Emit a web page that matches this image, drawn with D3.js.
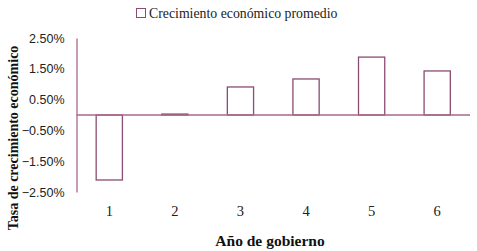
<!DOCTYPE html>
<html><head><meta charset="utf-8">
<script src="https://cdn.jsdelivr.net/npm/d3@7"></script>
<style>body{margin:0;background:#fff}svg{display:block}</style>
</head><body>
<svg id="c" width="477" height="251"></svg>
<script>
const categories = ["1","2","3","4","5","6"];
const values = [-2.11, 0.03, 0.91, 1.17, 1.88, 1.43];
const yTicks = [2.5, 1.5, 0.5, -0.5, -1.5, -2.5];
const seriesName = "Crecimiento económico promedio";
const xTitle = "Año de gobierno";
const yTitle = "Tasa de crecimiento económico";

(function () {
const svg = d3.select("#c");
const mLeft = 76.5, mRight = 470, mTop = 38, mBottom = 192;
const x = d3.scaleBand().domain(categories).range([mLeft, mRight]).paddingInner(0.6).paddingOuter(0.3);
const y = d3.scaleLinear().domain([-2.5, 2.5]).range([mBottom, mTop]);
const col = "#8a4c72";
const axisCol = "#a8698c";
const serif = "'Liberation Serif', 'DejaVu Serif', serif";
const sans = "'Liberation Sans', Arial, sans-serif";

const yAxis = d3.axisLeft(y).tickValues(yTicks).tickSize(0).tickPadding(12)
  .tickFormat(d => d3.format(".2f")(d) + "%");
const gy = svg.append("g").attr("transform", `translate(${mLeft},0)`).call(yAxis);
gy.select(".domain").attr("stroke", axisCol).attr("stroke-width", 1.3);
gy.selectAll("text").attr("font-family", sans).attr("font-size", 12.5).attr("fill", "#222");

svg.append("g").selectAll("rect").data(values).join("rect")
  .attr("x", (d, i) => x(categories[i]))
  .attr("width", x.bandwidth())
  .attr("y", d => y(Math.max(0, d)))
  .attr("height", d => Math.abs(y(d) - y(0)))
  .attr("fill", "#fff").attr("stroke", col).attr("stroke-width", 1.3);

svg.append("line").attr("x1", mLeft).attr("x2", mRight).attr("y1", y(0)).attr("y2", y(0))
  .attr("stroke", axisCol).attr("stroke-width", 1.3);

svg.append("g").selectAll("text").data(categories).join("text")
  .attr("x", d => x(d) + x.bandwidth() / 2).attr("y", 216)
  .attr("text-anchor", "middle").attr("font-family", serif).attr("font-size", 14.5)
  .attr("fill", "#222").text(d => d);

svg.append("text").attr("x", 270).attr("y", 246).attr("text-anchor", "middle")
  .attr("font-family", serif).attr("font-size", 15.5).attr("font-weight", "bold")
  .attr("fill", "#111").text(xTitle);

svg.append("text").attr("transform", "translate(18,138) rotate(-90)").attr("text-anchor", "middle")
  .attr("font-family", serif).attr("font-size", 14).attr("font-weight", "bold")
  .attr("fill", "#111").text(yTitle);

svg.append("rect").attr("x", 136.5).attr("y", 8.5).attr("width", 9).attr("height", 9)
  .attr("fill", "#fff").attr("stroke", col).attr("stroke-width", 1);
svg.append("text").attr("x", 149).attr("y", 18).attr("font-family", serif).attr("font-size", 13.8)
  .attr("fill", "#222").text(seriesName);
})();
</script>
</body></html>
